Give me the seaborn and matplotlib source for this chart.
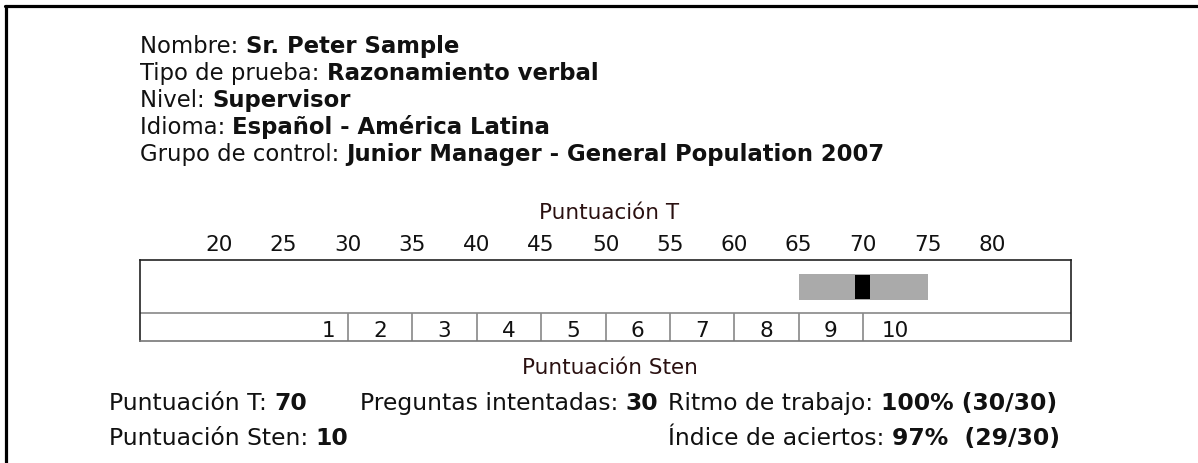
import matplotlib
matplotlib.use("Agg")
import matplotlib.pyplot as plt
import seaborn as sns
from matplotlib.lines import Line2D

# ==============================================================================
# DATA
# ==============================================================================

header_labels = ["Nombre: ", "Tipo de prueba: ", "Nivel: ", "Idioma: ", "Grupo de control: "]
header_values = ["Sr. Peter Sample", "Razonamiento verbal", "Supervisor",
                 "Español - América Latina", "Junior Manager - General Population 2007"]

t_ticks = [20, 25, 30, 35, 40, 45, 50, 55, 60, 65, 70, 75, 80]
sten_bounds = [30, 35, 40, 45, 50, 55, 60, 65, 70]
sten_labels = ["1", "2", "3", "4", "5", "6", "7", "8", "9", "10"]
sten_label_pos = [28.5, 32.5, 37.5, 42.5, 47.5, 52.5, 57.5, 62.5, 67.5, 72.5]

t_score = 70
t_band_low, t_band_high = 65, 75

summary_left = [("Puntuación T: ", "70"), ("Puntuación Sten: ", "10")]
summary_mid = [("Preguntas intentadas: ", "30")]
summary_right = [("Ritmo de trabajo: ", "100% (30/30)"), ("Índice de aciertos: ", "97%  (29/30)")]

# ==============================================================================
# FIGURE
# ==============================================================================

sns.set_theme(style="white")
plt.rcParams["font.family"] = ["DejaVu Sans"]

W, H = 1198, 464
fig = plt.figure(figsize=(W / 100, H / 100), dpi=100)
fig.patch.set_facecolor("white")

bg = fig.add_axes([0, 0, 1, 1])
bg.axis("off")

FS = 15.5
TXT = "#111111"


def label_value(x, y_top, label, value, fs=FS):
    """Regular label followed by bold value, y given from the top in pixels."""
    y = H - y_top
    t = bg.annotate(label, xy=(x, y), xycoords="figure pixels", va="baseline",
                    ha="left", fontsize=fs, color=TXT)
    bg.annotate(value, xy=(1, y), xycoords=(t, "figure pixels"), va="baseline",
                ha="left", fontsize=fs, fontweight="bold", color=TXT)


# --- header block ---
for i, (lab, val) in enumerate(zip(header_labels, header_values)):
    label_value(140, 53 + 27 * i, lab, val, fs=16.4)

# --- frame lines (top and left) ---
fig.add_artist(Line2D([5 / W, 1], [1 - 6.5 / H, 1 - 6.5 / H], transform=fig.transFigure,
                      color="black", lw=2.3))
fig.add_artist(Line2D([5.5 / W, 5.5 / W], [0, 1 - 6.5 / H], transform=fig.transFigure,
                      color="black", lw=2.3))

# --- scale box ---
box_l, box_r, box_t, box_b = 140, 1071, 261, 342
ax = fig.add_axes([box_l / W, 1 - box_b / H, (box_r - box_l) / W, (box_b - box_t) / H])
px_per_unit = (992 - 219) / 60
ax.set_xlim(20 - (219 - box_l) / px_per_unit, 20 + (box_r - 219) / px_per_unit)
ax.set_ylim(0, 1)
ax.set_facecolor("white")
ax.grid(False)
for side in ["top", "left", "right"]:
    ax.spines[side].set_color("#222222")
    ax.spines[side].set_linewidth(1.2)
ax.spines["bottom"].set_color("#777777")
ax.spines["bottom"].set_linewidth(1.2)

ax.xaxis.tick_top()
ax.set_xticks(t_ticks)
ax.set_xticklabels([str(t) for t in t_ticks], fontsize=FS, color=TXT)
ax.tick_params(axis="x", length=0, pad=4.5)
ax.set_yticks([])

split_y = (box_b - 314) / (box_b - box_t)
ax.axhline(split_y, color="#888888", lw=1.2)
ax.vlines(sten_bounds, 0, split_y, color="#888888", lw=1.2)
for pos, lab in zip(sten_label_pos, sten_labels):
    ax.text(pos, (box_b - 337) / (box_b - box_t), lab, ha="center", va="baseline",
            fontsize=FS, color=TXT)

# range band and score marker
band_c = (box_b - 288) / (box_b - box_t)
ax.barh(band_c, t_band_high - t_band_low, left=t_band_low,
        height=26 / (box_b - box_t), color="#aaaaaa", edgecolor="none")
ax.barh(band_c, 1.15, left=t_score - 0.6,
        height=24 / (box_b - box_t), color="black", edgecolor="none")

# axis titles
bg.text(609 / W, 1 - 213 / H, "Puntuación T", ha="center", va="center",
        fontsize=15.5, color="#2a1010", transform=fig.transFigure)
bg.text(610 / W, 1 - 368 / H, "Puntuación Sten", ha="center", va="center",
        fontsize=15.5, color="#2a1010", transform=fig.transFigure)

# --- summary rows ---
for i, (lab, val) in enumerate(summary_left):
    label_value(109, 410 + 35 * i, lab, val, fs=16.9)
for i, (lab, val) in enumerate(summary_mid):
    label_value(360, 410 + 35 * i, lab, val, fs=16.9)
for i, (lab, val) in enumerate(summary_right):
    label_value(668, 410 + 35 * i, lab, val, fs=16.9)

fig.savefig("out.png", dpi=100, facecolor="white")
